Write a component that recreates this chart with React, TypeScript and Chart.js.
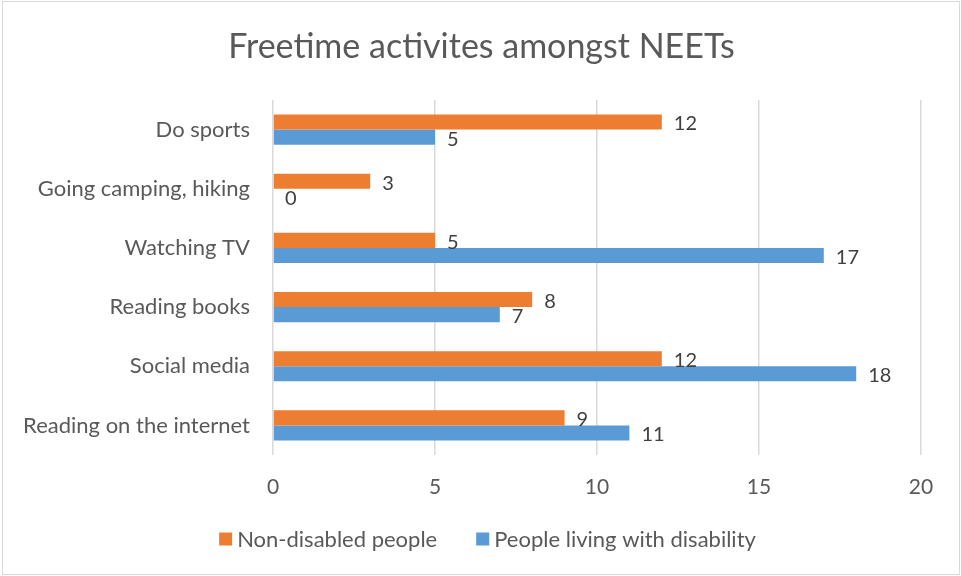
import React, { useEffect, useRef } from "react";
import { Chart, registerables } from "chart.js";

Chart.register(...registerables);

const title = "Freetime activites amongst NEETs";
const categories = [
  "Do sports",
  "Going camping, hiking",
  "Watching TV",
  "Reading books",
  "Social media",
  "Reading on the internet",
];
const seriesNames = ["Non-disabled people", "People living with disability"];
const seriesColors = ["#ED7D31", "#5B9BD5"];
const nonDisabled = [12, 3, 5, 8, 12, 9];
const disabled = [5, 0, 17, 7, 18, 11];
const xMin = 0;
const xMax = 20;
const xStep = 5;

const FONT = "Lato, 'Open Sans', sans-serif";
const TEXT = "#595959";

const frameTitleLabelsLegend = {
  id: "frameTitleLabelsLegend",
  beforeDraw(chart: any) {
    const ctx = chart.ctx;
    ctx.save();
    ctx.fillStyle = "#ffffff";
    ctx.fillRect(0, 0, chart.width, chart.height);
    ctx.strokeStyle = "#d9d9d9";
    ctx.lineWidth = 1;
    ctx.strokeRect(2.5, 1.5, chart.width - 4, chart.height - 3);
    // title
    ctx.font = `34px ${FONT}`;
    ctx.fillStyle = TEXT;
    ctx.textAlign = "center";
    ctx.textBaseline = "middle";
    ctx.fillText(title, chart.width / 2 + 1, 47);
    ctx.restore();
  },
  afterDatasetsDraw(chart: any) {
    const ctx = chart.ctx;
    ctx.save();
    ctx.font = `20px ${FONT}`;
    ctx.fillStyle = "#404040";
    ctx.textAlign = "left";
    ctx.textBaseline = "middle";
    chart.data.datasets.forEach((ds: any, i: number) => {
      const meta = chart.getDatasetMeta(i);
      meta.data.forEach((el: any, j: number) => {
        ctx.fillText(String(ds.data[j]), el.x + 12, el.y + 2);
      });
    });
    ctx.restore();
  },
  afterDraw(chart: any) {
    const ctx = chart.ctx;
    ctx.save();
    ctx.font = `22px ${FONT}`;
    ctx.textBaseline = "middle";
    ctx.textAlign = "left";
    const box = 13;
    const gapText = 5;
    const gapItem = 39;
    const widths = chart.data.datasets.map((ds: any) => ctx.measureText(ds.label).width);
    const total =
      widths.reduce((a: number, w: number) => a + box + gapText + w, 0) + gapItem * (widths.length - 1);
    let x = chart.width / 2 + 7 - total / 2;
    const cy = chart.chartArea.bottom + 84;
    chart.data.datasets.forEach((ds: any, i: number) => {
      ctx.fillStyle = ds.backgroundColor;
      ctx.fillRect(x, cy - box / 2, box, box);
      ctx.fillStyle = TEXT;
      ctx.fillText(ds.label, x + box + gapText, cy + 1);
      x += box + gapText + widths[i] + gapItem;
    });
    ctx.restore();
  },
};

export default function App() {
  const ref = useRef<HTMLCanvasElement | null>(null);
  useEffect(() => {
    if (!ref.current) return;
    const chart = new Chart(ref.current, {
      type: "bar",
      data: {
        labels: categories,
        datasets: [
          {
            label: seriesNames[0],
            data: nonDisabled,
            backgroundColor: seriesColors[0],
            barPercentage: 1,
            categoryPercentage: 0.51,
          },
          {
            label: seriesNames[1],
            data: disabled,
            backgroundColor: seriesColors[1],
            barPercentage: 1,
            categoryPercentage: 0.51,
          },
        ],
      },
      options: {
        indexAxis: "y",
        animation: false,
        responsive: false,
        maintainAspectRatio: false,
        layout: { padding: { left: 0, right: 40, top: 100, bottom: 61 } },
        plugins: {
          title: { display: false },
          legend: { display: false },
          tooltip: { enabled: false },
        },
        scales: {
          x: {
            min: xMin,
            max: xMax,
            ticks: {
              stepSize: xStep,
              color: TEXT,
              font: { family: FONT, size: 21 },
              padding: 20,
            },
            grid: { color: "#d9d9d9", drawTicks: false, lineWidth: 1.5 },
            border: { display: false },
            afterFit: (scale: any) => {
              scale.height = 60;
            },
          },
          y: {
            ticks: {
              color: TEXT,
              font: { family: FONT, size: 22 },
              padding: 23,
            },
            grid: { display: false, drawTicks: false },
            border: { display: false },
            afterFit: (scale: any) => {
              scale.width = 273;
            },
          },
        },
      },
      plugins: [frameTitleLabelsLegend],
    });
    return () => chart.destroy();
  }, []);
  return (
    <div style={{ position: "fixed", left: 0, top: 0, width: 961, height: 576, background: "#fff" }}>
      <canvas ref={ref} width={961} height={576} style={{ width: 961, height: 576 }} />
    </div>
  );
}
